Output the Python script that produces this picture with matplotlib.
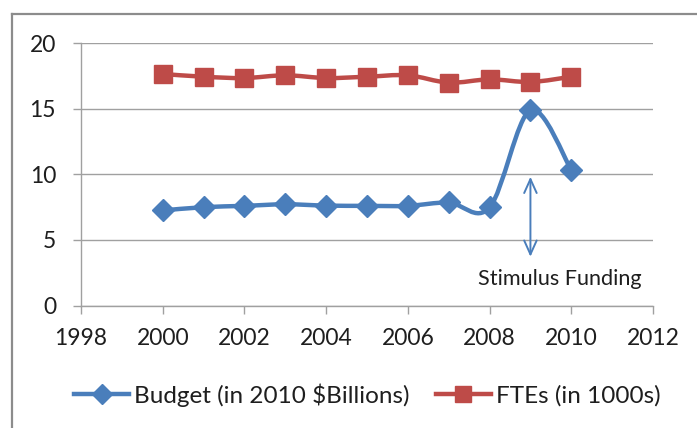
import matplotlib
matplotlib.use("Agg")
import matplotlib.pyplot as plt
from matplotlib.path import Path
from matplotlib.patches import PathPatch
from matplotlib.lines import Line2D
import numpy as np

plt.rcParams['font.family'] = ['Lato', 'DejaVu Sans']

years = [2000, 2001, 2002, 2003, 2004, 2005, 2006, 2007, 2008, 2009, 2010]
budget = [7.25, 7.5, 7.6, 7.72, 7.62, 7.6, 7.6, 7.86, 7.48, 14.9, 10.35]
ftes = [17.66, 17.45, 17.35, 17.56, 17.35, 17.45, 17.56, 17.0, 17.25, 17.05, 17.45]

xticks = [1998, 2000, 2002, 2004, 2006, 2008, 2010, 2012]
yticks = [0, 5, 10, 15, 20]
budget_label = "Budget (in 2010 $Billions)"
fte_label = "FTEs (in 1000s)"
annot_text = "Stimulus Funding"
arrow_year = 2009
arrow_top, arrow_bottom = 9.82, 3.72

BLUE = '#4a7ebb'
RED = '#be4b48'
GRID = '#a0a0a0'
TXT = '#1e1e1e'


def smooth_path(xs, ys):
    pts = np.column_stack([xs, ys]).astype(float)
    n = len(pts)
    verts = [pts[0]]
    codes = [Path.MOVETO]
    for i in range(n - 1):
        p0 = pts[i - 1] if i > 0 else pts[i]
        p1 = pts[i]
        p2 = pts[i + 1]
        p3 = pts[i + 2] if i + 2 < n else pts[i + 1]
        c1 = p1 + (p2 - p0) / 6.0
        c2 = p2 - (p3 - p1) / 6.0
        verts += [c1, c2, p2]
        codes += [Path.CURVE4] * 3
    return Path(verts, codes)


fig = plt.figure(figsize=(6.97, 4.28), dpi=100)
ax = fig.add_axes([81 / 697, (428 - 305.5) / 428, 572 / 697, 262.2 / 428])

ax.set_xlim(1998, 2012)
ax.set_ylim(0, 20)
ax.set_xticks(xticks)
ax.set_yticks(yticks)
ax.set_xticklabels([str(t) for t in xticks])
ax.set_yticklabels([str(t) for t in yticks])

for s in ['top', 'right']:
    ax.spines[s].set_visible(False)
for s in ['left', 'bottom']:
    ax.spines[s].set_color(GRID)
    ax.spines[s].set_linewidth(1.0)
ax.grid(axis='y', color=GRID, linewidth=1.0)
ax.set_axisbelow(True)
ax.tick_params(axis='both', colors=GRID, labelcolor=TXT, labelsize=16.5,
               length=6, width=1.0, direction='out')
ax.tick_params(axis='y', pad=12)
ax.tick_params(axis='x', pad=10)

# smooth lines
ax.add_patch(PathPatch(smooth_path(years, budget), facecolor='none',
                       edgecolor=BLUE, linewidth=3.2, zorder=3))
ax.add_patch(PathPatch(smooth_path(years, ftes), facecolor='none',
                       edgecolor=RED, linewidth=3.2, zorder=3))
ax.plot(years, budget, linestyle='none', marker='D', markersize=11,
        color=BLUE, markeredgecolor=BLUE, zorder=4)
ax.plot(years, ftes, linestyle='none', marker='s', markersize=13.5,
        color=RED, markeredgecolor=RED, zorder=4)

ax.annotate('', xy=(arrow_year, arrow_top), xytext=(arrow_year, arrow_bottom),
            arrowprops=dict(arrowstyle='<->,head_length=1.0,head_width=0.45',
                            color=BLUE, linewidth=1.4, shrinkA=0, shrinkB=0),
            zorder=5)
ax.text(2009.72, 2.05, annot_text, ha='center', va='center', fontsize=15.6,
        color=TXT)

handles = [
    Line2D([], [], color=BLUE, linewidth=3.2, marker='D', markersize=10),
    Line2D([], [], color=RED, linewidth=3.2, marker='s', markersize=12),
]
fig.legend(handles, [budget_label, fte_label], loc='center',
           bbox_to_anchor=(0.527, (428 - 395) / 428), ncol=2, frameon=False,
           fontsize=17.5, handlelength=2.25, handletextpad=0.2,
           columnspacing=1.1, labelcolor=TXT)

# outer chart border (left and top edges visible)
fig.add_artist(Line2D([12 / 697, 12 / 697], [0, 1 - 14 / 428],
                      transform=fig.transFigure, color='#8c8c8c', linewidth=1.6))
fig.add_artist(Line2D([12 / 697, 1], [1 - 14 / 428, 1 - 14 / 428],
                      transform=fig.transFigure, color='#8c8c8c', linewidth=1.6))

fig.savefig('out.png', dpi=100)
